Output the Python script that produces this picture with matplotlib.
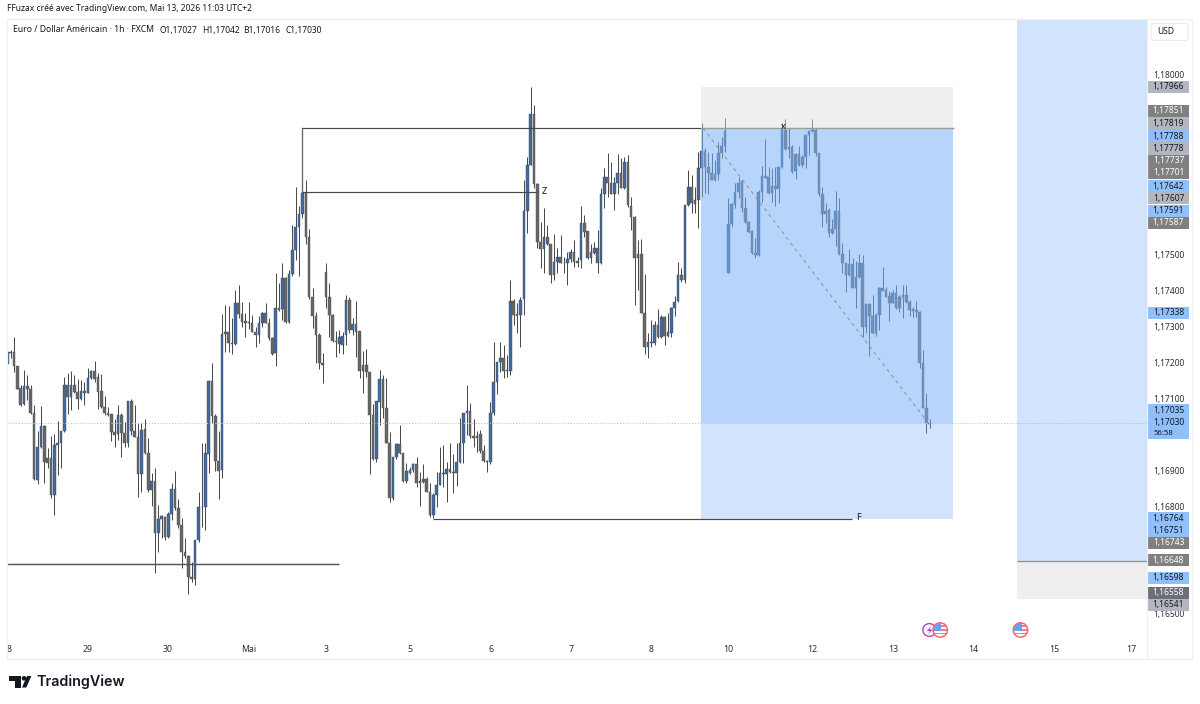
import matplotlib
matplotlib.use("Agg")
import matplotlib.pyplot as plt
from matplotlib.patches import Rectangle, Circle, Polygon, FancyBboxPatch
import numpy as np

# hourly candles, in 1e-5 above 1.16000
BASE = 1.16
opens = [
    1195, 1225, 1229, 1188, 1127, 1084, 1134, 1126, 1060, 872,
    965, 1023, 933, 933, 831, 969, 974, 1009, 1137, 1104,
    1137, 1117, 1097, 1119, 1115, 1155, 1176, 1158, 1119, 1075,
    1060, 1055, 1007, 1000, 1053, 1002, 974, 1092, 1010, 993,
    889, 1013, 947, 845, 869, 724, 763, 769, 715, 778,
    847, 794, 747, 671, 662, 602, 596, 706, 796, 796,
    945, 1149, 1049, 926, 900, 1278, 1283, 1252, 1250, 1364,
    1334, 1314, 1313, 1310, 1285, 1276, 1308, 1336, 1310, 1268,
    1225, 1352, 1347, 1433, 1313, 1445, 1512, 1575, 1612, 1671,
    1549, 1382, 1329, 1276, 1197, 1452, 1382, 1331, 1260, 1250,
    1248, 1276, 1373, 1289, 1306, 1288, 1192, 1192, 1174, 1053,
    932, 1090, 1152, 1072, 974, 821, 935, 972, 948, 870,
    893, 900, 917, 863, 875, 875, 840, 775, 831, 858,
    888, 889, 903, 895, 891, 923, 974, 1058, 1065, 995,
    988, 999, 954, 925, 923, 1058, 1146, 1201, 1213, 1176,
    1176, 1370, 1333, 1331, 1375, 1621, 1748, 1889, 1695, 1533,
    1514, 1549, 1530, 1442, 1479, 1493, 1477, 1475, 1486, 1507,
    1481, 1484, 1588, 1566, 1489, 1505, 1517, 1475, 1669, 1714,
    1699, 1669, 1697, 1727, 1683, 1758, 1634, 1605, 1489, 1501,
    1336, 1241, 1257, 1252, 1303, 1271, 1325, 1273, 1280, 1352,
    1370, 1442, 1428, 1637, 1688, 1640, 1651, 1739, 1788, 1742,
    1725, 1707, 1722, 1783, 1801, 1449, 1584, 1637, 1672, 1704,
    1628, 1591, 1566, 1504, 1498, 1674, 1719, 1714, 1671, 1690,
    1681, 1744, 1847, 1793, 1799, 1733, 1779, 1771, 1771, 1832,
    1843, 1846, 1783, 1669, 1612, 1623, 1560, 1569, 1620, 1501,
    1475, 1442, 1472, 1405, 1438, 1477, 1299, 1362, 1328, 1280,
    1331, 1405, 1401, 1384, 1365, 1391, 1350, 1380, 1387, 1368,
    1347, 1345, 1340, 1199, 1072, 1027,
]
highs = [
    1234, 1234, 1269, 1190, 1137, 1178, 1164, 1137, 1081, 1009,
    1078, 1025, 961, 995, 1000, 1037, 1009, 1158, 1171, 1176,
    1164, 1152, 1151, 1146, 1183, 1177, 1204, 1169, 1167, 1106,
    1075, 1056, 1041, 1081, 1058, 1035, 1093, 1097, 1081, 1032,
    1030, 1041, 988, 891, 905, 803, 775, 772, 784, 863,
    896, 819, 766, 710, 664, 645, 706, 840, 976, 974,
    1151, 1197, 1056, 1009, 1334, 1359, 1356, 1322, 1401, 1415,
    1368, 1338, 1366, 1331, 1299, 1329, 1340, 1364, 1322, 1271,
    1449, 1419, 1477, 1438, 1456, 1581, 1686, 1634, 1679, 1707,
    1569, 1405, 1340, 1282, 1226, 1475, 1419, 1333, 1287, 1289,
    1285, 1387, 1380, 1322, 1370, 1288, 1232, 1238, 1174, 1085,
    1093, 1178, 1164, 1155, 1007, 937, 974, 1025, 948, 919,
    909, 919, 937, 895, 917, 882, 863, 835, 895, 965,
    970, 923, 974, 946, 974, 1044, 1058, 1136, 1087, 1041,
    1009, 1011, 970, 928, 1090, 1257, 1201, 1257, 1248, 1220,
    1428, 1377, 1364, 1382, 1707, 1770, 1964, 1915, 1697, 1591,
    1628, 1581, 1530, 1556, 1517, 1554, 1493, 1507, 1514, 1540,
    1493, 1634, 1609, 1566, 1530, 1535, 1568, 1683, 1739, 1781,
    1758, 1716, 1779, 1767, 1770, 1776, 1660, 1606, 1540, 1542,
    1445, 1280, 1317, 1315, 1347, 1331, 1328, 1338, 1354, 1384,
    1479, 1461, 1637, 1734, 1720, 1688, 1785, 1866, 1795, 1785,
    1781, 1762, 1813, 1827, 1878, 1656, 1644, 1699, 1716, 1708,
    1660, 1593, 1568, 1544, 1679, 1745, 1820, 1742, 1739, 1744,
    1744, 1864, 1876, 1850, 1804, 1781, 1801, 1776, 1832, 1844,
    1875, 1850, 1783, 1688, 1644, 1628, 1597, 1676, 1656, 1532,
    1477, 1514, 1489, 1481, 1500, 1498, 1362, 1364, 1387, 1336,
    1408, 1466, 1410, 1399, 1402, 1414, 1387, 1416, 1414, 1373,
    1354, 1370, 1343, 1234, 1115, 1042,
]
lows = [
    1192, 1211, 1174, 1125, 1079, 1081, 1095, 1056, 872, 861,
    961, 863, 905, 822, 775, 886, 907, 1007, 1056, 1067,
    1114, 1070, 1095, 1081, 1114, 1152, 1146, 1070, 1072, 1053,
    1049, 982, 965, 984, 937, 963, 965, 998, 991, 826,
    840, 945, 840, 800, 613, 673, 710, 706, 710, 761,
    789, 738, 627, 655, 555, 590, 579, 701, 743, 733,
    893, 1030, 896, 820, 877, 1229, 1229, 1223, 1248, 1322,
    1299, 1271, 1291, 1283, 1243, 1252, 1297, 1308, 1262, 1220,
    1189, 1343, 1317, 1310, 1310, 1440, 1484, 1440, 1600, 1530,
    1377, 1294, 1197, 1180, 1141, 1352, 1271, 1257, 1215, 1226,
    1224, 1248, 1280, 1276, 1215, 1155, 1113, 1160, 889, 928,
    923, 1025, 1044, 974, 812, 818, 932, 946, 868, 865,
    889, 895, 854, 800, 863, 840, 770, 768, 798, 858,
    852, 812, 891, 835, 855, 919, 919, 997, 988, 965,
    951, 948, 923, 895, 917, 1053, 1111, 1174, 1155, 1160,
    1164, 1303, 1280, 1243, 1331, 1560, 1748, 1683, 1517, 1461,
    1449, 1526, 1419, 1428, 1449, 1475, 1449, 1416, 1479, 1464,
    1466, 1461, 1549, 1486, 1475, 1501, 1449, 1473, 1628, 1660,
    1668, 1623, 1669, 1683, 1681, 1632, 1567, 1359, 1401, 1336,
    1224, 1213, 1243, 1248, 1268, 1266, 1248, 1269, 1271, 1328,
    1368, 1424, 1421, 1634, 1614, 1614, 1572, 1660, 1671, 1668,
    1707, 1704, 1708, 1767, 1785, 1449, 1577, 1628, 1656, 1619,
    1586, 1560, 1501, 1489, 1496, 1646, 1711, 1669, 1646, 1634,
    1644, 1741, 1790, 1767, 1727, 1709, 1745, 1742, 1739, 1776,
    1841, 1773, 1662, 1577, 1586, 1547, 1556, 1524, 1498, 1447,
    1396, 1440, 1405, 1350, 1435, 1271, 1280, 1218, 1278, 1273,
    1289, 1401, 1380, 1315, 1364, 1347, 1340, 1322, 1365, 1328,
    1325, 1327, 1183, 1072, 1004, 1016,
]
closes = [
    1229, 1229, 1188, 1126, 1081, 1134, 1125, 1060, 874, 965,
    1023, 923, 921, 831, 970, 974, 1009, 1137, 1104, 1137,
    1118, 1097, 1119, 1114, 1155, 1176, 1152, 1118, 1075, 1060,
    1053, 1005, 998, 1053, 1002, 974, 1093, 1010, 993, 889,
    1012, 947, 845, 869, 724, 763, 771, 715, 777, 847,
    794, 747, 671, 661, 602, 596, 706, 796, 798, 947,
    1149, 1049, 926, 898, 1279, 1283, 1252, 1250, 1364, 1334,
    1313, 1308, 1308, 1285, 1276, 1310, 1336, 1310, 1266, 1223,
    1352, 1345, 1433, 1313, 1445, 1512, 1575, 1612, 1671, 1549,
    1382, 1329, 1276, 1197, 1192, 1382, 1331, 1260, 1257, 1271,
    1273, 1373, 1289, 1306, 1285, 1176, 1176, 1174, 1053, 932,
    1093, 1152, 1072, 974, 821, 935, 972, 948, 870, 898,
    900, 917, 863, 869, 868, 840, 775, 832, 858, 891,
    891, 902, 895, 893, 923, 974, 1058, 1065, 995, 988,
    995, 954, 925, 922, 1058, 1146, 1201, 1213, 1176, 1178,
    1370, 1331, 1329, 1373, 1621, 1748, 1889, 1695, 1533, 1514,
    1549, 1529, 1442, 1479, 1493, 1477, 1475, 1486, 1507, 1479,
    1477, 1588, 1563, 1489, 1507, 1517, 1475, 1669, 1714, 1699,
    1669, 1699, 1727, 1683, 1758, 1637, 1603, 1489, 1501, 1336,
    1241, 1257, 1252, 1303, 1269, 1325, 1273, 1283, 1352, 1368,
    1442, 1428, 1637, 1688, 1642, 1651, 1739, 1788, 1742, 1725,
    1707, 1722, 1783, 1801, 1844, 1584, 1640, 1672, 1699, 1628,
    1591, 1563, 1503, 1498, 1674, 1719, 1713, 1671, 1690, 1681,
    1742, 1847, 1793, 1799, 1730, 1779, 1748, 1747, 1832, 1843,
    1847, 1783, 1667, 1612, 1621, 1560, 1569, 1620, 1501, 1475,
    1442, 1472, 1407, 1438, 1477, 1299, 1362, 1328, 1280, 1331,
    1405, 1399, 1382, 1365, 1391, 1350, 1382, 1387, 1368, 1345,
    1343, 1340, 1199, 1072, 1030, 1030,
]

# axis ticks
time_ticks = [0.5, 23.8, 47.9, 72, 95, 120, 144.2, 168, 191.9, 214.9, 240, 264.1, 288, 312.1, 335]
time_labels = ["8", "29", "30", "Mai", "3", "5", "6", "7", "8", "10", "12", "13", "14", "15", "17"]
price_ticks = [1.165, 1.168, 1.169, 1.171, 1.172, 1.173, 1.174, 1.175, 1.18]

# price labels on the scale, top to bottom
tag_texts = ["1,17966", "1,17851", "1,17819", "1,17788", "1,17778", "1,17737", "1,17701",
             "1,17642", "1,17607", "1,17591", "1,17587", "1,17338",
             "1,16764", "1,16751", "1,16743", "1,16648", "1,16598", "1,16558", "1,16541"]
tag_rows = [87, 111, 123.5, 136, 148.5, 161, 173, 186, 198, 211, 223, 312.7,
            518, 530.6, 543, 560, 577.7, 592.7, 605]
tag_kinds = ["light", "dark", "light", "blue", "light", "dark", "dark", "blue", "light", "blue", "dark",
             "blue", "blue", "blue", "dark", "dark", "blue", "darker", "light"]
tag_fill = {"light": "#b4b6bf", "dark": "#808080", "darker": "#6c6e78", "blue": "#90bff9"}
tag_ink = {"light": "#131722", "dark": "#ffffff", "darker": "#ffffff", "blue": "#131722"}

# drawing levels
last_price = 1.1703
long_entry, long_stop, long_target = 1.17851, 1.17966, 1.16764
far_entry, far_stop = 1.16648, 1.16541
swing_z = 1.17673
swing_low = 1.16639

FONT = "Noto Sans"
INK = "#131722"
LINE = "#484848"
BLUE_ZONE = "#7db3f8"
GREY_ZONE = "#dddde1"

# pixel layout of the price pane: index 0 sits at px 7.33, one bar is 3.354 px
def bar_at(px):
    return (px - 7.33) / 3.354

def price_at(py):
    return 1.18 - (py - 74.5) / 35960

fig = plt.figure(figsize=(12, 7.04), dpi=100, facecolor="white")
ax = fig.add_axes([7 / 1200, 1 - 640 / 704, 1140 / 1200, 621 / 704])
ax.set_xlim(bar_at(7), bar_at(1147))
ax.set_ylim(price_at(640), price_at(19))
for s in ax.spines.values():
    s.set_visible(False)
ax.set_xticks(time_ticks)
ax.set_xticklabels(time_labels, fontfamily=FONT, fontsize=6.3, color="#2a2e39")
ax.get_xticklabels()[3].set_fontweight("bold")
ax.yaxis.tick_right()
ax.set_yticks(price_ticks)
ax.set_yticklabels([f"{p:.5f}".replace(".", ",") for p in price_ticks],
                   fontfamily=FONT, fontsize=6.1, color="#2a2e39")
ax.tick_params(axis="both", length=0)
ax.tick_params(axis="x", pad=3.5)
ax.tick_params(axis="y", pad=4.6)

# candles
o = BASE + np.array(opens) / 1e5
h = BASE + np.array(highs) / 1e5
l = BASE + np.array(lows) / 1e5
c = BASE + np.array(closes) / 1e5
idx = np.arange(len(o))
up = c >= o
ax.vlines(idx, l, h, color="#4a4a4a", linewidth=0.72, zorder=2)
ax.bar(idx[up], (c - o)[up], bottom=o[up], width=0.78, color="#44699c", edgecolor="#3a4a60",
       linewidth=0.3, zorder=3)
ax.bar(idx[~up], (c - o)[~up], bottom=o[~up], width=0.78, color="#666666", edgecolor="#505050",
       linewidth=0.3, zorder=3)

# hand drawn levels, under the position boxes
x_left = bar_at(302)
line_kw = dict(color=LINE, lw=0.85, zorder=4, solid_capstyle="butt")
ax.plot([x_left, bar_at(701)], [long_entry, long_entry], **line_kw)
ax.plot([x_left, x_left], [long_entry, swing_z], color="#666666", lw=0.95, zorder=4)
ax.plot([x_left, bar_at(537)], [swing_z, swing_z], **line_kw)
ax.plot([bar_at(433), bar_at(852)], [long_target, long_target], **line_kw)
ax.plot([bar_at(7), bar_at(339)], [swing_low, swing_low], color="#555555", lw=1.05, zorder=4,
        solid_capstyle="butt")
ax.axhline(last_price, color="#a9c8f2", lw=0.8, ls=(0, (1, 1.6)), zorder=4)

# long position box, filled down to the last price
bx0, bx1 = bar_at(701), bar_at(953.5)
ax.add_patch(Rectangle((bx0, long_entry), bx1 - bx0, long_stop - long_entry,
                       fc=GREY_ZONE, alpha=0.45, ec="none", zorder=5))
ax.add_patch(Rectangle((bx0, last_price), bx1 - bx0, long_entry - last_price,
                       fc=BLUE_ZONE, alpha=0.55, ec="none", zorder=5))
ax.add_patch(Rectangle((bx0, long_target), bx1 - bx0, last_price - long_target,
                       fc=BLUE_ZONE, alpha=0.35, ec="none", zorder=5))
ax.plot([bx0, bx1], [long_entry, long_entry], color="#9c9c9c", lw=1.0, zorder=6,
        solid_capstyle="butt")
ax.plot([bar_at(703), bar_at(927)], [long_entry, 1.17035], color="#8f959e", lw=0.8,
        ls=(0, (3, 3.5)), zorder=6)

# position box further right
fx0, fx1 = bar_at(1017.3), bar_at(1147)
ax.add_patch(Rectangle((fx0, far_entry), fx1 - fx0, price_at(19) - far_entry,
                       fc=BLUE_ZONE, alpha=0.35, ec="none", zorder=5))
ax.add_patch(Rectangle((fx0, far_stop), fx1 - fx0, far_entry - far_stop,
                       fc=GREY_ZONE, alpha=0.45, ec="none", zorder=5))
ax.plot([fx0, fx1], [far_entry, far_entry], color="#8c8c8c", lw=0.9, zorder=6,
        solid_capstyle="butt")

# everything around the pane is placed in pixels
top = fig.add_axes([0, 0, 1, 1], facecolor="none")
top.set_xlim(0, 1200)
top.set_ylim(704, 0)
top.axis("off")

def label(x, y, s, size=6.1, color=INK, ha="left", **kw):
    top.text(x, y, s, fontsize=size, color=color, ha=ha, va="center", fontfamily=FONT, **kw)

top.add_patch(Rectangle((7, 19), 1185, 640, fc="none", ec="#f0f0f3", lw=0.9))
top.plot([1147, 1147], [19, 659], color="#f0f0f3", lw=0.9)
top.add_patch(FancyBboxPatch((1151, 23.5), 37, 17, boxstyle="round,pad=0,rounding_size=2.5",
                             fc="white", ec="#ececf0", lw=0.8))
label(1157, 32, "USD", size=6.1)

label(7, 8.5, "FFuzax créé avec TradingView.com, Mai 13, 2026 11:03 UTC+2", size=6.07)
label(13, 30, "Euro / Dollar Américain · 1h · FXCM", size=6.2)
label(160, 30, "O1,17027", size=6.1)
label(202, 30, "H1,17042", size=6.1)
label(243, 30, "B1,17016", size=6.1)
label(285, 30, "C1,17030", size=6.1)

label(541.5, 192, "Z", size=6.6)
label(856.5, 518, "F", size=6.6)
label(783, 126.5, "x", size=6.6, ha="center")

# price scale tags
for text, row, kind in zip(tag_texts, tag_rows, tag_kinds):
    top.add_patch(Rectangle((1148, row - 6.2), 41, 12.4, fc=tag_fill[kind], ec="none"))
    label(1168.5, row, text, size=6.1, color=tag_ink[kind], ha="center")
top.add_patch(Rectangle((1148, 404.3), 41, 35, fc="#90bff9", ec="none"))
label(1168.5, 410, "1,17035", size=6.1, ha="center")
label(1168.5, 422, "1,17030", size=6.1, ha="center")
label(1154, 433.5, "56:58", size=5.6)

# calendar event badges
def us_flag(cx, cy):
    r = 7.2
    disc = Circle((cx, cy), r, fc="white", ec="none", zorder=9)
    top.add_patch(disc)
    for dy, height in [(-4.6, 1.8), (-1.0, 1.8), (2.6, 1.8)]:
        s = top.add_patch(Rectangle((cx - r, cy + dy), 2 * r, height, fc="#f77c80", ec="none", zorder=9))
        s.set_clip_path(disc)
    cant = top.add_patch(Rectangle((cx - r, cy - r), r + 1, r + 0.8, fc="#64a3f5", ec="none", zorder=9))
    cant.set_clip_path(disc)
    top.add_patch(Circle((cx, cy), r, fc="none", ec="#f7666e", lw=1.1, zorder=9))

top.add_patch(Circle((929.3, 630), 6.4, fc="white", ec="#ab47bc", lw=1.0, zorder=8))
top.add_patch(Polygon([(931.5, 625.5), (927, 631), (930, 631), (927.5, 635), (932.5, 629.5), (929.5, 629.5)],
                      fc="#8e3fd0", ec="none", zorder=8))
us_flag(940.2, 630)
us_flag(1020.5, 630)

# logo
for poly in ([(9, 676), (20.5, 676), (20.5, 687.5), (14.5, 687.5), (14.5, 680.6), (9, 680.6)],
             [(27, 676), (31.3, 676), (26.3, 687.5), (22, 687.5)]):
    top.add_patch(Polygon(poly, fc="#131722", ec="none"))
top.add_patch(Circle((24, 678.3), 2.3, fc="#131722", ec="none"))
top.text(36, 682, "TradingView", fontsize=10.3, color="#131722", ha="left", va="center",
         fontfamily="Inter", fontweight="semibold")

fig.savefig("out.png", dpi=100)
